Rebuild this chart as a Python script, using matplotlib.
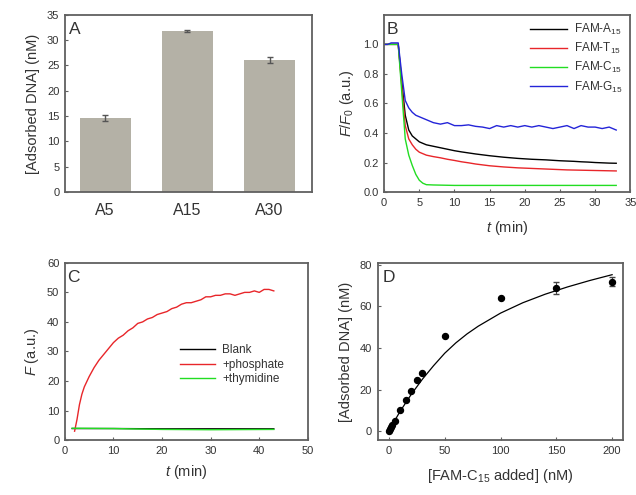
import numpy as np
import matplotlib
matplotlib.use('Agg')
import matplotlib.pyplot as plt

plt.rcParams['font.family'] = ['Liberation Sans', 'DejaVu Sans']
plt.rcParams['mathtext.fontset'] = 'custom'
plt.rcParams['mathtext.rm'] = 'Liberation Sans'
plt.rcParams['mathtext.it'] = 'Liberation Sans:italic'

TXT = '#333333'
SPINE = '#606060'

# ---- Panel A: adsorbed DNA for A5/A15/A30 ----
a_labels = ['A5', 'A15', 'A30']
a_values = [14.6, 31.9, 26.0]
a_errors = [0.6, 0.2, 0.6]

# ---- Panel B: normalised fluorescence vs time ----
b_time = [0, 0.5, 1, 1.5, 2, 2.5, 3, 3.5, 4, 4.5, 5, 5.5, 6, 7, 8, 9, 10, 11, 12,
          13, 14, 15, 16, 17, 18, 19, 20, 21, 22, 23, 24, 25, 26, 27, 28, 29,
          30, 31, 32, 33]
b_a15 = [1.0, 1.0, 1.0, 1.0, 1.0, 0.75, 0.52, 0.42, 0.38, 0.36, 0.34, 0.33, 0.32,
         0.31, 0.30, 0.29, 0.28, 0.272, 0.265, 0.258, 0.252, 0.246, 0.241, 0.236,
         0.232, 0.228, 0.225, 0.222, 0.22, 0.218, 0.215, 0.212, 0.21, 0.208,
         0.205, 0.203, 0.2, 0.198, 0.196, 0.195]
b_t15 = [1.0, 1.0, 1.0, 1.0, 1.0, 0.72, 0.45, 0.36, 0.32, 0.29, 0.27, 0.26, 0.25,
         0.24, 0.232, 0.222, 0.214, 0.205, 0.198, 0.19, 0.184, 0.178, 0.174, 0.17,
         0.167, 0.164, 0.162, 0.16, 0.158, 0.156, 0.154, 0.152, 0.15, 0.149,
         0.148, 0.147, 0.146, 0.145, 0.144, 0.143]
b_c15 = [1.0, 1.0, 1.0, 1.0, 1.0, 0.68, 0.36, 0.25, 0.18, 0.12, 0.08, 0.06, 0.05,
         0.048, 0.047, 0.046, 0.045, 0.045, 0.045, 0.045, 0.045, 0.045, 0.045,
         0.045, 0.045, 0.045, 0.045, 0.045, 0.045, 0.045, 0.045, 0.045, 0.045,
         0.045, 0.045, 0.045, 0.045, 0.045, 0.045, 0.045]
b_g15 = [1.0, 1.0, 1.01, 1.01, 1.01, 0.80, 0.62, 0.57, 0.54, 0.52, 0.51, 0.50, 0.49,
         0.47, 0.46, 0.47, 0.45, 0.45, 0.455, 0.445, 0.44, 0.43, 0.45, 0.44, 0.45,
         0.44, 0.45, 0.44, 0.45, 0.44, 0.43, 0.44, 0.45, 0.43, 0.45, 0.44, 0.44,
         0.43, 0.44, 0.42]
b_names = ['FAM-A$_{15}$', 'FAM-T$_{15}$', 'FAM-C$_{15}$', 'FAM-G$_{15}$']

# ---- Panel C: fluorescence recovery ----
c_time = [2, 2.5, 3, 3.5, 4, 5, 6, 7, 8, 9, 10, 11, 12, 13, 14, 15, 16, 17, 18, 19,
          20, 21, 22, 23, 24, 25, 26, 27, 28, 29, 30, 31, 32, 33, 34, 35, 36, 37,
          38, 39, 40, 41, 42, 43]
c_phosphate = [3, 7, 12, 15.5, 18, 21.5, 24.5, 27, 29, 31, 33, 34.5, 35.5, 37, 38,
               39.5, 40, 41, 41.5, 42.5, 43, 43.5, 44.5, 45, 46, 46.5, 46.5, 47,
               47.5, 48.5, 48.5, 49, 49, 49.5, 49.5, 49, 49.5, 50, 50, 50.5, 50,
               51, 51, 50.5]
c_flat_time = [1.5, 10, 20, 30, 43]
c_blank = [3.9, 3.9, 3.8, 3.8, 3.8]
c_thymidine = [4.0, 3.9, 3.6, 3.5, 3.6]
c_names = ['Blank', '+phosphate', '+thymidine']

# ---- Panel D: adsorption isotherm ----
d_added = [0, 1, 2, 3, 5, 10, 15, 20, 25, 30, 50, 100, 150, 200]
d_adsorbed = [0, 1, 2, 3, 5, 10, 15, 19.5, 24.5, 28, 46, 64, 69, 72]
d_err = [0, 0, 0, 0, 0, 0, 0, 0, 0, 0, 0, 0, 3, 2]
d_fit_x = [0, 5, 10, 20, 30, 40, 50, 60, 70, 80, 100, 120, 140, 160, 180, 200]
d_fit_y = [0, 4.9, 9.5, 17.7, 25, 31.5, 37.5, 42.5, 46.8, 50.5, 56.8, 61.8,
           65.9, 69.4, 72.5, 75.3]


def style_axes(ax):
    for sp in ax.spines.values():
        sp.set_color(SPINE)
        sp.set_linewidth(1.3)
    ax.tick_params(direction='in', length=2, width=0.8, color=SPINE,
                   labelsize=8, labelcolor=TXT, pad=4)


fig = plt.figure(figsize=(6.36, 4.95), dpi=100)

# Panel A
axA = fig.add_axes([0.102, 0.612, 0.389, 0.358])
xpos = np.arange(len(a_labels))
axA.bar(xpos, a_values, width=0.62, color='#b4b1a6', yerr=a_errors,
        error_kw=dict(ecolor='#555555', elinewidth=1, capsize=2))
axA.set_xlim(-0.49, 2.52)
axA.set_ylim(0, 35)
axA.set_yticks(range(0, 36, 5))
axA.set_xticks(xpos)
axA.set_xticklabels(a_labels)
style_axes(axA)
axA.tick_params(axis='x', length=0, labelsize=11.5, pad=8)
axA.set_ylabel('[Adsorbed DNA] (nM)', fontsize=10.5, color=TXT, labelpad=5)
axA.text(0.015, 0.96, 'A', transform=axA.transAxes, fontsize=12.5,
         color=TXT, va='top', ha='left')

# Panel B
axB = fig.add_axes([0.604, 0.612, 0.387, 0.358])
colors_b = ['black', '#e8262a', '#22dd22', '#2424d8']
for ys, name, col in zip([b_a15, b_t15, b_c15, b_g15], b_names, colors_b):
    axB.plot(b_time, ys, color=col, lw=1.0, label=name)
axB.set_xlim(0, 35)
axB.set_ylim(0, 1.2)
axB.set_xticks(range(0, 36, 5))
axB.set_yticks([0, 0.2, 0.4, 0.6, 0.8, 1.0])
axB.set_yticklabels(['0.0', '0.2', '0.4', '0.6', '0.8', '1.0'])
style_axes(axB)
axB.set_xlabel('$t$ (min)', fontsize=10.5, color=TXT, labelpad=8)
axB.set_ylabel('$F$/$F_0$ (a.u.)', fontsize=10.5, color=TXT, labelpad=5)
axB.text(0.01, 0.96, 'B', transform=axB.transAxes, fontsize=12.5,
         color=TXT, va='top', ha='left')
axB.legend(loc='upper right', frameon=False, fontsize=8.5, handlelength=3.2,
           labelspacing=0.35, borderaxespad=0.2, handletextpad=0.6,
           labelcolor=TXT)

# Panel C
axC = fig.add_axes([0.102, 0.111, 0.382, 0.358])
axC.plot(c_flat_time, c_blank, color='black', lw=1.0, label=c_names[0])
axC.plot(c_time, c_phosphate, color='#e8262a', lw=1.0, label=c_names[1])
axC.plot(c_flat_time, c_thymidine, color='#22dd22', lw=1.0, label=c_names[2])
axC.set_xlim(0, 50)
axC.set_ylim(0, 60)
axC.set_xticks(range(0, 51, 10))
axC.set_yticks(range(0, 61, 10))
style_axes(axC)
axC.set_xlabel('$t$ (min)', fontsize=10.5, color=TXT, labelpad=5)
axC.set_ylabel('$F$ (a.u.)', fontsize=10.5, color=TXT)
axC.text(0.01, 0.96, 'C', transform=axC.transAxes, fontsize=12.5,
         color=TXT, va='top', ha='left')
axC.legend(loc='upper left', bbox_to_anchor=(0.43, 0.6), frameon=False,
           fontsize=8.5, handlelength=3.0, labelspacing=0.2, handletextpad=0.6,
           labelcolor=TXT)

# Panel D
axD = fig.add_axes([0.594, 0.111, 0.386, 0.358])
axD.plot(d_fit_x, d_fit_y, color='black', lw=0.9)
axD.errorbar(d_added, d_adsorbed, yerr=d_err, fmt='o', color='black',
             ms=4.3, elinewidth=0.8, capsize=2, ecolor='#444444')
axD.set_xlim(-10, 210)
axD.set_ylim(-4.3, 81)
axD.set_xticks(range(0, 201, 50))
axD.set_yticks(range(0, 81, 20))
style_axes(axD)
axD.set_xlabel('[FAM-C$_{15}$ added] (nM)', fontsize=10.5, color=TXT, labelpad=8)
axD.set_ylabel('[Adsorbed DNA] (nM)', fontsize=10.5, color=TXT, labelpad=5)
axD.text(0.02, 0.96, 'D', transform=axD.transAxes, fontsize=12.5,
         color=TXT, va='top', ha='left')

fig.savefig('out.png', dpi=100)
